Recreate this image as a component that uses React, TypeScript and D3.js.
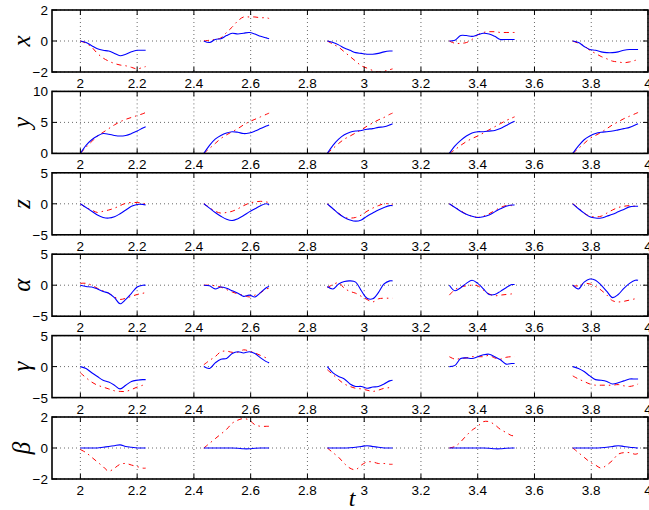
import React from 'react';
import * as d3 from 'd3';

// time axis: each trial segment starts at segmentStarts[k], sampled at sampleOffsets
const segmentStarts = [2.0, 2.435, 2.87, 3.3, 3.735];
const sampleOffsets = [0, 0.02, 0.04, 0.06, 0.08, 0.1, 0.12, 0.14, 0.16, 0.18, 0.2, 0.22, 0.23];
const timeTicks = [2, 2.2, 2.4, 2.6, 2.8, 3, 3.2, 3.4, 3.6, 3.8, 4];

const panelLabels = ['x', 'y', 'z', 'α', 'γ', 'β'];
const panelDomains = [[-2, 2], [0, 10], [-5, 5], [-5, 5], [-5, 5], [-2, 2]];
const panelTicks = [[-2, 0, 2], [0, 5, 10], [-5, 0, 5], [-5, 0, 5], [-5, 0, 5], [-2, 0, 2]];

// blue solid = measured, red dash-dot = model
const blueX = [
  [0, -0.1, -0.3, -0.5, -0.6, -0.65, -0.8, -0.95, -0.85, -0.7, -0.6, -0.6, -0.6],
  [0, -0.1, 0.1, 0.15, 0.35, 0.5, 0.45, 0.5, 0.55, 0.45, 0.3, 0.2, 0.15],
  [0, -0.1, -0.25, -0.45, -0.6, -0.75, -0.8, -0.85, -0.85, -0.8, -0.7, -0.65, -0.65],
  [0, 0.05, 0.35, 0.35, 0.3, 0.4, 0.5, 0.45, 0.3, 0.1, 0.1, 0.1, 0.1],
  [0, -0.1, -0.35, -0.55, -0.6, -0.7, -0.75, -0.75, -0.7, -0.6, -0.55, -0.55, -0.55],
];
const redX = [
  [0, -0.15, -0.4, -0.8, -1.1, -1.3, -1.45, -1.55, -1.6, -1.7, -1.8, -1.7, -1.65],
  [0, 0.05, 0.1, 0.2, 0.55, 0.9, 1.3, 1.55, 1.55, 1.55, 1.5, 1.5, 1.45],
  [0, -0.2, -0.4, -0.7, -1.0, -1.3, -1.6, -1.75, -1.9, -2.0, -1.95, -1.85, -1.8],
  [0, -0.15, -0.15, -0.1, 0.1, 0.4, 0.55, 0.6, 0.6, 0.55, 0.55, 0.55, 0.55],
  [0, -0.15, -0.3, -0.6, -0.8, -1.0, -1.15, -1.3, -1.35, -1.4, -1.35, -1.25, -1.2],
];

const blueY = [
  [0, 1.3, 2.2, 2.8, 3.2, 3.1, 2.9, 2.8, 2.9, 3.2, 3.6, 4.1, 4.3],
  [0, 1.3, 2.3, 2.9, 3.3, 3.5, 3.4, 3.2, 3.3, 3.6, 4.0, 4.4, 4.6],
  [0, 1.3, 2.3, 3.0, 3.4, 3.6, 3.7, 3.9, 4.0, 4.2, 4.3, 4.6, 4.8],
  [0, 1.2, 2.1, 2.8, 3.3, 3.5, 3.5, 3.6, 3.7, 4.0, 4.5, 5.0, 5.2],
  [0, 1.2, 2.2, 2.8, 3.2, 3.4, 3.5, 3.6, 3.8, 4.0, 4.2, 4.6, 4.8],
];
const redY = [
  [0, 1.0, 1.9, 2.8, 3.4, 4.0, 4.6, 5.1, 5.5, 5.8, 6.1, 6.4, 6.6],
  [0, 0.8, 1.6, 2.4, 3.0, 3.5, 4.0, 4.6, 5.1, 5.5, 5.9, 6.3, 6.5],
  [0, 0.8, 1.6, 2.3, 2.8, 3.3, 3.8, 4.4, 4.9, 5.4, 5.8, 6.3, 6.5],
  [0, 0.6, 1.3, 1.9, 2.4, 2.8, 3.3, 3.8, 4.3, 4.8, 5.3, 5.7, 5.9],
  [0, 0.8, 1.6, 2.4, 2.9, 3.4, 4.0, 4.6, 5.1, 5.6, 6.0, 6.4, 6.6],
];

const blueZ = [
  [0, -0.6, -1.2, -1.8, -2.2, -2.3, -2.1, -1.6, -1.0, -0.4, -0.1, -0.1, -0.2],
  [0, -0.7, -1.4, -2.0, -2.5, -2.7, -2.4, -1.9, -1.3, -0.8, -0.3, 0.0, -0.2],
  [0, -0.8, -1.6, -2.2, -2.6, -2.8, -2.6, -2.0, -1.5, -1.0, -0.6, -0.3, -0.3],
  [0, -0.6, -1.2, -1.7, -2.0, -2.2, -2.1, -1.8, -1.3, -0.8, -0.4, -0.2, -0.2],
  [0, -0.8, -1.5, -2.1, -2.3, -2.3, -2.0, -1.7, -1.3, -0.9, -0.5, -0.4, -0.4],
];
const redZ = [
  [0, -0.6, -1.0, -1.4, -1.2, -1.0, -0.7, -0.3, 0.1, 0.2, 0.2, 0.1, -0.1],
  [0, -0.6, -1.2, -1.5, -1.4, -1.2, -0.8, -0.3, 0.1, 0.3, 0.4, 0.3, 0.2],
  [0, -0.8, -1.5, -2.2, -2.3, -2.2, -1.8, -1.2, -0.7, -0.3, 0.0, 0.0, -0.1],
  [0, -0.6, -1.1, -1.7, -2.0, -2.2, -2.0, -1.6, -1.1, -0.6, -0.3, -0.3, -0.5],
  [0, -0.7, -1.5, -2.0, -2.1, -2.0, -1.5, -1.0, -0.6, -0.4, -0.3, -0.4, -0.5],
];

const blueAlpha = [
  [0, -0.2, -0.3, -0.6, -1.0, -1.3, -2.0, -3.0, -2.3, -1.3, -0.3, 0, 0],
  [0, -0.1, -0.6, -0.3, -0.5, -0.9, -1.3, -1.8, -1.6, -1.9, -1.2, -0.4, -0.2],
  [-0.2, -0.6, 0.2, 0.6, 0.7, 0.5, -0.9, -2.1, -2.2, -1.2, 0.2, 0.7, 0.7],
  [0, -0.9, -0.4, 0.3, 0.8, 0.3, -0.6, -1.5, -1.5, -1.0, -0.4, 0.1, 0.1],
  [0, -0.6, 0.5, 1.0, 0.8, 0.0, -1.0, -2.0, -1.5, -0.5, 0.3, 0.8, 0.8],
];
const redAlpha = [
  [0.3, 0.3, 0, -0.5, -0.9, -1.3, -1.9, -2.3, -2.1, -1.8, -1.5, -1.3, -1.2],
  [0, 0, -0.1, -0.3, -0.7, -1.1, -1.4, -1.6, -1.9, -1.6, -1.2, -0.6, -0.5],
  [-0.4, 0.1, 0.4, -0.5, -1.0, -1.3, -1.8, -2.3, -2.7, -2.2, -2.1, -2.1, -2.1],
  [-1.6, -0.7, -0.3, -0.1, 0.0, -0.1, -0.8, -1.4, -1.7, -1.6, -1.5, -1.4, -1.3],
  [-0.1, -0.1, 0.3, 0.2, -0.2, -0.8, -1.6, -2.5, -2.7, -2.6, -2.4, -2.2, -2.2],
];

const blueGamma = [
  [0, -0.3, -1.0, -1.6, -2.2, -2.5, -3.0, -3.6, -3.0, -2.4, -2.2, -2.1, -2.1],
  [0, -0.3, 0.6, 1.2, 1.3, 2.1, 2.4, 2.2, 2.4, 2.1, 1.4, 0.8, 0.6],
  [0, -1.0, -1.6, -2.0, -2.8, -3.2, -3.2, -3.5, -3.3, -3.2, -2.8, -2.3, -2.2],
  [0, 0.2, 1.3, 1.4, 1.3, 1.6, 1.9, 2.0, 1.6, 1.1, 0.4, 0.5, 0.5],
  [0, -0.3, -0.8, -1.5, -2.1, -2.2, -2.4, -2.8, -2.6, -2.3, -2.0, -2.0, -2.0],
];
const redGamma = [
  [-1.0, -1.8, -2.5, -3.0, -3.3, -3.6, -3.9, -4.0, -4.0, -3.7, -3.3, -3.0, -2.8],
  [0.3, 1.0, 1.6, 2.4, 2.5, 2.3, 2.3, 2.7, 2.5, 2.2, 1.8, 1.4, 1.2],
  [-0.5, -1.3, -2.1, -2.8, -3.2, -3.5, -3.6, -3.8, -4.0, -3.8, -3.5, -3.4, -3.4],
  [1.6, 1.2, 1.3, 1.4, 1.6, 1.6, 1.6, 1.8, 1.4, 1.2, 1.5, 1.6, 1.6],
  [-1.5, -2.0, -2.4, -2.8, -3.0, -3.0, -3.0, -3.0, -2.9, -3.1, -3.2, -3.0, -2.8],
];

const blueBeta = [
  [0, 0, 0, 0, 0.05, 0.1, 0.15, 0.2, 0.1, 0.05, 0, 0, 0],
  [0, 0, 0, 0, 0, 0, -0.02, -0.05, -0.05, -0.02, 0, 0, 0],
  [0, 0, 0, 0, 0.02, 0.05, 0.1, 0.15, 0.1, 0.05, 0, 0, 0],
  [0, 0, 0, 0, 0, 0, 0, -0.02, -0.05, -0.05, -0.02, 0, 0],
  [0, 0, 0, 0, 0, 0.02, 0.05, 0.1, 0.15, 0.1, 0.05, 0.02, 0],
];
const redBeta = [
  [-0.1, -0.3, -0.6, -0.9, -1.2, -1.5, -1.3, -1.05, -1.0, -1.1, -1.2, -1.3, -1.3],
  [0, 0.3, 0.6, 0.9, 1.2, 1.6, 1.8, 1.9, 1.8, 1.5, 1.4, 1.4, 1.4],
  [0, -0.3, -0.6, -1.0, -1.3, -1.4, -1.1, -0.9, -0.9, -1.0, -1.0, -1.05, -1.05],
  [0, 0.1, 0.4, 0.8, 1.15, 1.4, 1.7, 1.7, 1.5, 1.2, 1.0, 0.8, 0.8],
  [0, -0.3, -0.6, -0.9, -1.1, -1.3, -1.1, -0.8, -0.4, -0.3, -0.3, -0.4, -0.35],
];

const blueSeries = [blueX, blueY, blueZ, blueAlpha, blueGamma, blueBeta];
const redSeries = [redX, redY, redZ, redAlpha, redGamma, redBeta];

const width = 649;
const height = 510;
const left = 52;
const right = 648;
const firstTop = 10;
const pitch = 81.4;
const panelH = 62;
const sans = '"Liberation Sans", Arial, Helvetica, sans-serif';
const serif = '"Liberation Serif", "Times New Roman", serif';

const x = d3.scaleLinear().domain([1.9, 4]).range([left, right]);

const fmt = (v: number) => (v < 0 ? '\u2212' : '') + String(+Math.abs(v).toFixed(1));

function Panel({ idx }: { idx: number }) {
  const top = firstTop + idx * pitch;
  const y = d3.scaleLinear().domain(panelDomains[idx]).range([panelH, 0]);
  // one path per trial segment
  const path = (vals: number[], k: number) =>
    d3
      .line<number>()
      .x((_, i) => x(segmentStarts[k] + sampleOffsets[i]))
      .y((d) => y(d))
      .curve(d3.curveCatmullRom.alpha(0.5))(vals) || '';
  const clipId = `clip-${idx}`;
  return (
    <g transform={`translate(0,${top})`}>
      <defs>
        <clipPath id={clipId}>
          <rect x={left} y={0} width={right - left} height={panelH} />
        </clipPath>
      </defs>
      <rect x={left} y={0} width={right - left} height={panelH} fill="#fff" />
      {/* grid */}
      {timeTicks.map((t) => (
        <line key={'gx' + t} x1={x(t)} x2={x(t)} y1={0} y2={panelH}
          stroke="#444" strokeWidth={0.8} strokeDasharray="1,3" />
      ))}
      {panelTicks[idx].map((v) => (
        <line key={'gy' + v} x1={left} x2={right} y1={y(v)} y2={y(v)}
          stroke="#444" strokeWidth={0.8} strokeDasharray="1,3" />
      ))}
      <g clipPath={`url(#${clipId})`}>
        {redSeries[idx].map((vals, k) => (
          <path key={'r' + k} d={path(vals, k)} fill="none" stroke="#ff0000"
            strokeWidth={1} strokeDasharray="5,4,1.5,4" />
        ))}
        {blueSeries[idx].map((vals, k) => (
          <path key={'b' + k} d={path(vals, k)} fill="none" stroke="#0000ff" strokeWidth={1.1} />
        ))}
      </g>
      {/* ticks */}
      {timeTicks.map((t) => (
        <g key={'tx' + t}>
          <line x1={x(t)} x2={x(t)} y1={panelH} y2={panelH - 5} stroke="#000" />
          <line x1={x(t)} x2={x(t)} y1={0} y2={5} stroke="#000" />
          <text x={x(t)} y={panelH + 16} textAnchor="middle" fontFamily={sans} fontSize={13.5}>
            {fmt(t)}
          </text>
        </g>
      ))}
      {panelTicks[idx].map((v) => (
        <g key={'ty' + v}>
          <line x1={left} x2={left + 5} y1={y(v)} y2={y(v)} stroke="#000" />
          <line x1={right} x2={right - 5} y1={y(v)} y2={y(v)} stroke="#000" />
          <text x={left - 4} y={y(v) + 5} textAnchor="end" fontFamily={sans} fontSize={13.5}>
            {fmt(v)}
          </text>
        </g>
      ))}
      <rect x={left} y={0} width={right - left} height={panelH} fill="none" stroke="#000" strokeWidth={1.6} />
      <text transform={`translate(30,${panelH / 2}) rotate(-90)`} textAnchor="middle"
        fontFamily={serif} fontStyle="italic" fontSize={25}>
        {panelLabels[idx]}
      </text>
    </g>
  );
}

export default function App() {
  return (
    <svg width={width} height={height} style={{ position: 'absolute', left: 0, top: 0, background: '#fff' }}>
      <rect width={width} height={height} fill="#fff" />
      {panelLabels.map((_, i) => (
        <Panel key={i} idx={i} />
      ))}
      <text x={352} y={506} textAnchor="middle" fontFamily={serif} fontStyle="italic" fontSize={24}>
        t
      </text>
    </svg>
  );
}
